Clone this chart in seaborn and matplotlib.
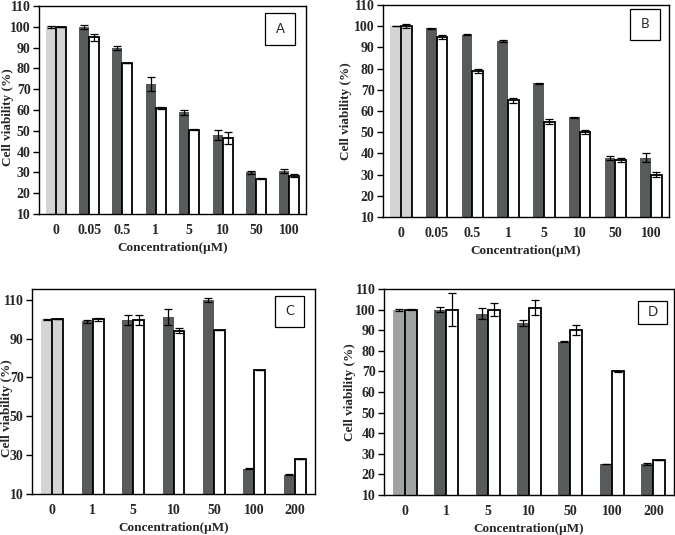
import numpy as np
import pandas as pd
import matplotlib
matplotlib.use("Agg")
import matplotlib.pyplot as plt
from matplotlib.patches import Rectangle
import seaborn as sns

sns.set_theme(style="white")
plt.rcParams['font.family'] = ['Liberation Serif', 'DejaVu Serif']

# ---------------- data ----------------
conc_AB = ["0", "0.05", "0.5", "1", "5", "10", "50", "100"]
conc_CD = ["0", "1", "5", "10", "50", "100", "200"]

A_dark = [100, 100, 90, 72.5, 59, 48, 30, 30.5]
A_dark_err = [0.5, 1, 1, 3.5, 1.2, 2.5, 0.8, 1]
A_white = [100, 95, 82.5, 61, 50.5, 46.5, 27, 28.5]
A_white_err = [0, 1.6, 0, 0.5, 0.2, 3, 0.3, 0.5]

B_dark = [100, 99, 96, 93, 73, 57, 38, 38]
B_dark_err = [0, 0.3, 0.3, 0.3, 0.2, 0.2, 1, 2]
B_white = [100, 95, 79, 65, 55, 50, 37, 30]
B_white_err = [1, 1, 1, 1, 1, 1, 1, 1]

C_dark = [100, 99, 99.5, 101, 110, 23, 20]
C_dark_err = [0.3, 0.8, 2.5, 4, 1, 0.3, 0.3]
C_white = [100, 100, 99.5, 94, 94.5, 74, 28]
C_white_err = [0, 0.8, 2.5, 1.2, 0, 0, 0]

D_dark = [100, 100, 98, 93.5, 84.5, 25, 25]
D_dark_err = [0.5, 1.2, 2.8, 1.3, 0.2, 0.2, 0.3]
D_white = [100, 100, 100, 101, 90, 70, 27]
D_white_err = [0.4, 8, 3.2, 3.5, 2.4, 0.2, 0]

panel_letters = ["A", "B", "C", "D"]

# ---------------- style ----------------
DARK = "#575b5b"
LIGHT = "#d4d4d4"
MID = "#a0a3a3"

fig = plt.figure(figsize=(6.75, 5.35), dpi=100)

panels = [
    dict(rect=[0.0578, 0.600, 0.3956, 0.3888], conc=conc_AB, dark=A_dark, de=A_dark_err,
         white=A_white, we=A_white_err, ctrl=LIGHT, yticks=np.arange(10, 111, 10), ylim=(10, 110),
         width=0.6, box=(0.846, 0.8125, 0.113, 0.154), ylab=(-0.092, 0.466)),
    dict(rect=[0.5674, 0.5944, 0.4237, 0.3963], conc=conc_AB, dark=B_dark, de=B_dark_err,
         white=B_white, we=B_white_err, ctrl=LIGHT, yticks=np.arange(10, 111, 10), ylim=(10, 110),
         width=0.6, box=(0.864, 0.835, 0.105, 0.146), ylab=(-0.108, 0.5)),
    dict(rect=[0.0474, 0.0766, 0.4193, 0.3832], conc=conc_CD, dark=C_dark, de=C_dark_err,
         white=C_white, we=C_white_err, ctrl=LIGHT, yticks=np.arange(10, 111, 20), ylim=(10, 115.5),
         width=0.54, box=(0.859, 0.815, 0.102, 0.151), ylab=(-0.066, 0.42)),
    dict(rect=[0.5689, 0.0748, 0.4296, 0.385], conc=conc_CD, dark=D_dark, de=D_dark_err,
         white=D_white, we=D_white_err, ctrl=MID, yticks=np.arange(10, 111, 10), ylim=(10, 110),
         width=0.58, box=(0.876, 0.83, 0.1, 0.112), ylab=(-0.097, 0.5)),
]

for p, letter in zip(panels, panel_letters):
    ax = fig.add_axes(p["rect"])
    n = len(p["conc"])
    df = pd.DataFrame({
        "conc": p["conc"] * 2,
        "series": ["s1"] * n + ["s2"] * n,
        "value": list(p["dark"]) + list(p["white"]),
    })
    sns.barplot(data=df, x="conc", y="value", hue="series", order=p["conc"],
                hue_order=["s1", "s2"], palette={"s1": DARK, "s2": "white"},
                width=p["width"], gap=0, errorbar=None, legend=False, ax=ax,
                saturation=1)
    c_dark, c_white = ax.containers[0], ax.containers[1]
    for i, bar in enumerate(c_dark):
        bar.set_edgecolor("none")
        bar.set_linewidth(0)
        if i == 0:
            bar.set_facecolor(p["ctrl"])
    for i, bar in enumerate(c_white):
        bar.set_edgecolor("black")
        bar.set_linewidth(1.3)
        if i == 0:
            bar.set_facecolor(p["ctrl"])
    for cont, err in ((c_dark, p["de"]), (c_white, p["we"])):
        xs = [b.get_x() + b.get_width() / 2 for b in cont]
        ys = [b.get_height() + b.get_y() for b in cont]
        ax.errorbar(xs, ys, yerr=err, fmt="none", ecolor="black",
                    elinewidth=0.9, capsize=2.6, capthick=0.9, zorder=5)

    ax.set_xlim(-0.5, n - 0.5)
    ax.set_ylim(*p["ylim"])
    ax.set_yticks(p["yticks"])
    ax.set_xticks(range(n))
    ax.set_xticklabels(p["conc"])
    ax.set_xticks(np.arange(-0.5, n, 1.0), minor=True)
    ax.tick_params(axis="x", which="major", length=0, pad=7, labelsize=10)
    ax.tick_params(axis="x", which="minor", length=4, width=1, direction="out", color="black")
    ax.tick_params(axis="y", which="major", length=4, width=1, direction="out", color="black",
                   labelsize=10, pad=2, left=True)
    for lab in ax.get_xticklabels() + ax.get_yticklabels():
        lab.set_fontweight("bold")
    for s in ax.spines.values():
        s.set_visible(True)
        s.set_color("black")
        s.set_linewidth(1.0)
    ax.set_xlabel("Concentration(μM)", fontsize=9.5, fontweight="bold", labelpad=4)
    ax.set_ylabel("Cell viability (%)", fontsize=9.5, fontweight="bold")
    ax.yaxis.set_label_coords(*p["ylab"])
    ax.grid(False)

    bx, by, bw, bh = p["box"]
    ax.add_patch(Rectangle((bx, by), bw, bh, transform=ax.transAxes, facecolor="white",
                           edgecolor="black", linewidth=0.9, zorder=6))
    ax.text(bx + bw / 2, by + bh / 2, letter, transform=ax.transAxes, ha="center",
            va="center", fontsize=9.5, family=["Lato", "DejaVu Sans"], zorder=7)

fig.savefig("out.png", dpi=100)
